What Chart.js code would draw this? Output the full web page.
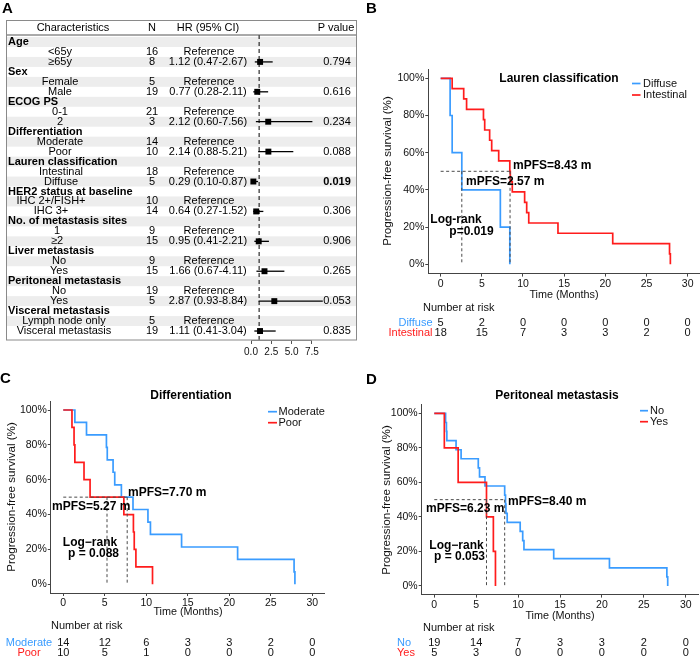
<!DOCTYPE html>
<html><head><meta charset="utf-8">
<script src="https://cdn.jsdelivr.net/npm/chart.js@4.4.1/dist/chart.umd.min.js"></script>
<style>
html,body{margin:0;padding:0;background:#fff;}
#wrap{position:relative;width:700px;height:658px;overflow:hidden;background:#fff;}
canvas{position:absolute;left:0;top:0;}
</style></head><body>
<div id="wrap">
<canvas id="cA" width="700" height="658"></canvas>
<canvas id="cB" width="700" height="658"></canvas>
<canvas id="cC" width="700" height="658"></canvas>
<canvas id="cD" width="700" height="658"></canvas>
</div>
<script>
// ---------------- DATA ----------------
// Panel A: forest plot
const groupNames = ['Age','Sex','ECOG PS','Differentiation','Lauren classification','HER2 status at baseline','No. of metastasis sites','Liver metastasis','Peritoneal metastasis','Visceral metastasis'];
const refLabels = ['<65y','Female','0-1','Moderate','Intestinal','IHC 2+/FISH+','1','No','No','Lymph node only'];
const cmpLabels = ['≥65y','Male','2','Poor','Diffuse','IHC 3+','≥2','Yes','Yes','Visceral metastasis'];
const refN = [16,5,21,14,18,10,9,9,19,5];
const cmpN = [8,19,3,10,5,14,15,15,5,19];
const hr = [1.12,0.77,2.12,2.14,0.29,0.64,0.95,1.66,2.87,1.11];
const hrLow = [0.47,0.28,0.60,0.88,0.10,0.27,0.41,0.67,0.93,0.41];
const hrHigh = [2.67,2.11,7.56,5.21,0.87,1.52,2.21,4.11,8.84,3.04];
const pValues = ['0.794','0.616','0.234','0.088','0.019','0.306','0.906','0.265','0.053','0.835'];
const pSignificant = [false,false,false,false,true,false,false,false,false,false];
const refLineHR = 1;
const forestTicks = [0, 2.5, 5, 7.5];

// KM panels shared
const timeTicks = [0,5,10,15,20,25,30];
const survTicks = [0,20,40,60,80,100];
const medianLevel = 50;

// Panel B: Lauren classification
const laurenDiffuseTime = [0,1.15,1.4,2.57,7.25,8.4];
const laurenDiffuseSurv = [100,80,60,40,20,0];
const laurenIntestinalTime = [0,1.4,2.8,3.15,5.2,5.35,5.95,6.2,7.05,8.4,8.46,8.7,10.2,10.45,10.7,14.25,20.9,27.8,27.9];
const laurenIntestinalSurv = [100,94.4,88.9,83.3,77.8,72.2,66.7,61.1,55.6,50.0,44.4,38.9,33.3,27.8,22.2,16.7,11.1,5.6,0];
const laurenMedians = [2.57, 8.43];
const laurenRiskDiffuse = [5,2,0,0,0,0,0];
const laurenRiskIntestinal = [18,15,7,3,3,2,0];

// Panel C: Differentiation
const diffModerateTime = [0,1.4,2.8,5.2,5.3,6.0,6.2,7.0,8.4,10.2,10.5,14.25,21.0,27.8,27.9];
const diffModerateSurv = [100,92.9,85.7,78.6,71.4,64.3,57.1,50.0,42.9,35.7,28.6,21.4,14.3,7.1,0];
const diffPoorTime = [0,1.05,1.3,1.4,2.5,3.23,7.3,8.45,8.55,8.75,10.75];
const diffPoorSurv = [100,90,80,70,60,50,40,30,20,10,0];
const diffMedians = [5.27, 7.70];
const diffRiskModerate = [14,12,6,3,3,2,0];
const diffRiskPoor = [10,5,1,0,0,0,0];

// Panel D: Peritoneal metastasis
const periNoTime = [0,1.35,1.45,1.5,2.6,3.2,5.25,5.4,6.05,8.4,8.5,8.55,8.7,10.25,10.55,10.7,14.25,20.9,27.75,27.85];
const periNoSurv = [100,94.7,89.5,84.2,78.9,73.7,68.4,63.2,57.9,52.6,47.4,42.1,36.8,31.6,26.3,21.1,15.8,10.5,5.3,0];
const periYesTime = [0,1.2,2.85,6.23,7.05,7.3];
const periYesSurv = [100,80,60,40,20,0];
const periMedians = [6.23, 8.40];
const periRiskNo = [19,14,7,3,3,2,0];
const periRiskYes = [5,3,0,0,0,0,0];

// ---------------- STYLE ----------------
const FONT = '"Liberation Sans", Arial, Helvetica, sans-serif';
const BLUE = '#3a9cff', RED = '#ff1c1c';
const AXIS = '#444', TXT = '#111';
Chart.defaults.font.family = FONT;
Chart.defaults.animation = false;

function txt(ctx, s, x, y, o) {
  o = o || {};
  ctx.save();
  ctx.font = (o.bold ? 'bold ' : '') + (o.size || 11) + 'px ' + FONT;
  ctx.fillStyle = o.color || '#000';
  ctx.textAlign = o.align || 'left';
  ctx.textBaseline = 'middle';
  if (o.rotate) { ctx.translate(x, y); ctx.rotate(o.rotate); ctx.fillText(s, 0, 0); }
  else ctx.fillText(s, x, y);
  ctx.restore();
}
function fixSize(size, horiz) {
  return s => {
    if (horiz) s.height = size; else s.width = size;
    s.paddingLeft = 0; s.paddingRight = 0; s.paddingTop = 0; s.paddingBottom = 0;
  };
}

// ---------------- PANEL A ----------------
(function () {
  const area = {l: 251, r: 311.9, t: 37, b: 340};
  const nRows = groupNames.length * 3;
  const datasets = [];
  datasets.push({data: [{x: refLineHR, y: 0.3}, {x: refLineHR, y: 30.9}], showLine: true, borderColor: '#000',
    borderWidth: 1, borderDash: [4, 3], pointRadius: 0, clip: false});
  hr.forEach((v, i) => {
    datasets.push({data: [{x: hrLow[i], y: 3 * i + 3}, {x: hrHigh[i], y: 3 * i + 3}], showLine: true,
      borderColor: '#000', borderWidth: 1.3, pointRadius: 0, clip: false});
  });
  datasets.push({data: hr.map((v, i) => ({x: v, y: 3 * i + 3})), showLine: false, pointStyle: 'rect',
    pointRadius: 4.2, backgroundColor: '#000', borderColor: '#000', borderWidth: 0, clip: false});

  const subCenters = [60, 60, 60, 60, 61, 51, 57, 59, 59, 64];
  const plugin = {
    id: 'forestTable',
    beforeDraw(chart) {
      const ctx = chart.ctx, ys = chart.scales.y;
      ctx.save();
      ctx.fillStyle = '#ededed';
      for (let r = 1; r <= nRows; r += 2) {
        const y0 = ys.getPixelForValue(r - 0.5), y1 = ys.getPixelForValue(r + 0.5);
        ctx.fillRect(7, y0, 349, y1 - y0);
      }
      ctx.restore();
    },
    afterDraw(chart) {
      const ctx = chart.ctx, ys = chart.scales.y;
      txt(ctx, 'A', 2, 9, {bold: true, size: 15});
      const hy = 28;
      txt(ctx, 'Characteristics', 73, hy, {align: 'center'});
      txt(ctx, 'N', 152, hy, {align: 'center'});
      txt(ctx, 'HR (95% CI)', 208, hy, {align: 'center'});
      txt(ctx, 'P value', 336, hy, {align: 'center'});
      groupNames.forEach((g, i) => {
        const y1 = ys.getPixelForValue(3 * i + 1), y2 = ys.getPixelForValue(3 * i + 2), y3 = ys.getPixelForValue(3 * i + 3);
        txt(ctx, g, 8, y1, {bold: true});
        txt(ctx, refLabels[i], subCenters[i], y2, {align: 'center'});
        txt(ctx, cmpLabels[i], subCenters[i], y3, {align: 'center'});
        txt(ctx, String(refN[i]), 152, y2, {align: 'center'});
        txt(ctx, String(cmpN[i]), 152, y3, {align: 'center'});
        txt(ctx, 'Reference', 209, y2, {align: 'center'});
        txt(ctx, hr[i].toFixed(2) + ' (' + hrLow[i].toFixed(2) + '-' + hrHigh[i].toFixed(2) + ')', 208, y3, {align: 'center'});
        txt(ctx, pValues[i], 337, y3, {align: 'center', bold: pSignificant[i]});
      });
      ctx.save();
      ctx.strokeStyle = '#555'; ctx.lineWidth = 1;
      ctx.beginPath(); ctx.moveTo(6.5, 35); ctx.lineTo(356.5, 35); ctx.stroke();
      ctx.strokeStyle = '#8a8a8a';
      ctx.strokeRect(6.5, 20.5, 350, 319.5);
      ctx.restore();
    }
  };

  new Chart(document.getElementById('cA'), {
    type: 'scatter',
    data: {datasets},
    options: {
      responsive: false, animation: false, events: [],
      layout: {padding: {left: area.l, right: 700 - area.r, top: area.t, bottom: 658 - area.b - 20}},
      plugins: {legend: {display: false}, tooltip: {enabled: false}},
      scales: {
        x: {type: 'linear', position: 'bottom', min: 0, max: 7.5,
          afterBuildTicks: s => { s.ticks = forestTicks.map(v => ({value: v})); },
          afterFit: fixSize(20, true),
          ticks: {autoSkip: false, maxRotation: 0, padding: 2, color: TXT, font: {size: 10}, callback: v => Number(v).toFixed(1)},
          grid: {drawOnChartArea: false, tickLength: 4, color: '#555'},
          border: {color: '#8a8a8a', width: 1}},
        y: {type: 'linear', display: false, min: 0.5, max: 30.9, reverse: true}
      }
    },
    plugins: [plugin]
  });
})();

// ---------------- KM PANELS ----------------
function buildKM(id, p) {
  const datasets = [];
  const dashStyle = {showLine: true, borderColor: '#4a4a4a', borderWidth: 1, borderDash: [3, 2.5], pointRadius: 0};
  const mMax = Math.max(...p.medians);
  datasets.push(Object.assign({data: [{x: 0, y: medianLevel}, {x: mMax, y: medianLevel}]}, dashStyle));
  p.medians.forEach(m => datasets.push(Object.assign({data: [{x: m, y: medianLevel}, {x: m, y: 0}]}, dashStyle)));
  p.curves.slice().reverse().forEach(c => {
    datasets.push({label: c.name, data: c.t.map((t, i) => ({x: t, y: c.s[i]})), showLine: true, stepped: 'before',
      borderColor: c.color, borderWidth: 1.7, pointRadius: 0, fill: false});
  });
  const a = p.area;
  const plugin = {
    id: 'kmDecor',
    afterDraw(chart) {
      const ctx = chart.ctx, xs = chart.scales.x;
      txt(ctx, p.letter, p.letterPos[0], p.letterPos[1], {bold: true, size: 15});
      txt(ctx, p.title, p.titlePos[0], p.titlePos[1], {bold: true, size: 12, align: 'center'});
      // legend
      p.curves.forEach((c, i) => {
        const y = p.legend.y[i];
        ctx.save(); ctx.strokeStyle = c.color; ctx.lineWidth = 1.7;
        ctx.beginPath(); ctx.moveTo(p.legend.x0, y); ctx.lineTo(p.legend.x1, y); ctx.stroke(); ctx.restore();
        txt(ctx, c.name, p.legend.tx, y, {size: 11, color: TXT});
      });
      p.notes.forEach(n => txt(ctx, n.s, n.x, n.y, {bold: true, size: 12, align: n.align || 'left'}));
      txt(ctx, 'Progression-free survival (%)', p.yTitle[0], p.yTitle[1], {size: 11.6, color: TXT, align: 'center', rotate: -Math.PI / 2});
      txt(ctx, 'Time (Months)', p.xTitle[0], p.xTitle[1], {size: 10.8, color: TXT, align: 'center'});
      txt(ctx, 'Number at risk', p.riskHead[0], p.riskHead[1], {size: 11, color: TXT});
      p.curves.forEach((c, i) => {
        const y = p.riskY[i];
        txt(ctx, c.name, p.riskLabel.x, y, {size: 11, color: c.color, align: p.riskLabel.align});
        c.risk.forEach((n, k) => txt(ctx, String(n), xs.getPixelForValue(timeTicks[k]), y, {size: 11, color: TXT, align: 'center'}));
      });
    }
  };
  new Chart(document.getElementById(id), {
    type: 'scatter',
    data: {datasets},
    options: {
      responsive: false, animation: false, events: [],
      layout: {padding: {left: a.l - 40, right: 700 - a.r, top: a.t, bottom: 658 - a.b - 20}},
      plugins: {legend: {display: false}, tooltip: {enabled: false}},
      scales: {
        x: {type: 'linear', position: 'bottom', min: -1.5, max: 31.5,
          afterBuildTicks: s => { s.ticks = timeTicks.map(v => ({value: v})); },
          afterFit: fixSize(20, true),
          ticks: {autoSkip: false, maxRotation: 0, padding: 1, color: TXT, font: {size: 10.5}},
          grid: {drawOnChartArea: false, tickLength: 3, color: AXIS},
          border: {color: AXIS, width: 1}},
        y: {type: 'linear', position: 'left', min: -5, max: 105,
          afterBuildTicks: s => { s.ticks = survTicks.map(v => ({value: v})); },
          afterFit: fixSize(40, false),
          ticks: {autoSkip: false, padding: 1, color: TXT, font: {size: 10.5}, callback: v => v + '%'},
          grid: {drawOnChartArea: false, tickLength: 3, color: AXIS},
          border: {color: AXIS, width: 1}}
      }
    },
    plugins: [plugin]
  });
}

buildKM('cB', {
  area: {l: 428.3, r: 700, t: 69, b: 273.6},
  letter: 'B', letterPos: [366, 9],
  title: 'Lauren classification', titlePos: [559, 79],
  curves: [
    {name: 'Diffuse', t: laurenDiffuseTime, s: laurenDiffuseSurv, color: BLUE, risk: laurenRiskDiffuse},
    {name: 'Intestinal', t: laurenIntestinalTime, s: laurenIntestinalSurv, color: RED, risk: laurenRiskIntestinal}
  ],
  medians: laurenMedians,
  legend: {x0: 632, x1: 640.5, tx: 643, y: [83.5, 95]},
  notes: [
    {s: 'mPFS=8.43 m', x: 513, y: 166},
    {s: 'mPFS=2.57 m', x: 466, y: 182},
    {s: 'Log-rank', x: 456, y: 220, align: 'center'},
    {s: 'p=0.019', x: 471.5, y: 232, align: 'center'}
  ],
  yTitle: [388, 171], xTitle: [564, 295],
  riskHead: [423, 308], riskY: [322.5, 333], riskLabel: {x: 432.5, align: 'right'}
});

buildKM('cC', {
  area: {l: 50.8, r: 324.8, t: 401.3, b: 593},
  letter: 'C', letterPos: [0, 379],
  title: 'Differentiation', titlePos: [191, 396],
  curves: [
    {name: 'Moderate', t: diffModerateTime, s: diffModerateSurv, color: BLUE, risk: diffRiskModerate},
    {name: 'Poor', t: diffPoorTime, s: diffPoorSurv, color: RED, risk: diffRiskPoor}
  ],
  medians: diffMedians,
  legend: {x0: 268, x1: 277, tx: 278.5, y: [411.7, 422.7]},
  notes: [
    {s: 'mPFS=7.70 m', x: 128, y: 492.5},
    {s: 'mPFS=5.27 m', x: 52, y: 507},
    {s: 'Log\u2212rank', x: 90, y: 542.7, align: 'center'},
    {s: 'p = 0.088', x: 93.5, y: 553.3, align: 'center'}
  ],
  yTitle: [12, 497], xTitle: [188, 612.3],
  riskHead: [51, 626], riskY: [643, 652.5], riskLabel: {x: 29, align: 'center'}
});

buildKM('cD', {
  area: {l: 421.7, r: 698.3, t: 404.7, b: 594.6},
  letter: 'D', letterPos: [366, 380],
  title: 'Peritoneal metastasis', titlePos: [557, 396],
  curves: [
    {name: 'No', t: periNoTime, s: periNoSurv, color: BLUE, risk: periRiskNo},
    {name: 'Yes', t: periYesTime, s: periYesSurv, color: RED, risk: periRiskYes}
  ],
  medians: periMedians,
  legend: {x0: 640, x1: 648, tx: 650, y: [410.7, 421.7]},
  notes: [
    {s: 'mPFS=8.40 m', x: 508, y: 501.7},
    {s: 'mPFS=6.23 m', x: 426, y: 508.3},
    {s: 'Log\u2212rank', x: 456.5, y: 546, align: 'center'},
    {s: 'p = 0.053', x: 459.5, y: 556.7, align: 'center'}
  ],
  yTitle: [387, 500], xTitle: [560, 615.7],
  riskHead: [423, 628], riskY: [643, 653], riskLabel: {x: 397, align: 'left'}
});
</script>
</body></html>
